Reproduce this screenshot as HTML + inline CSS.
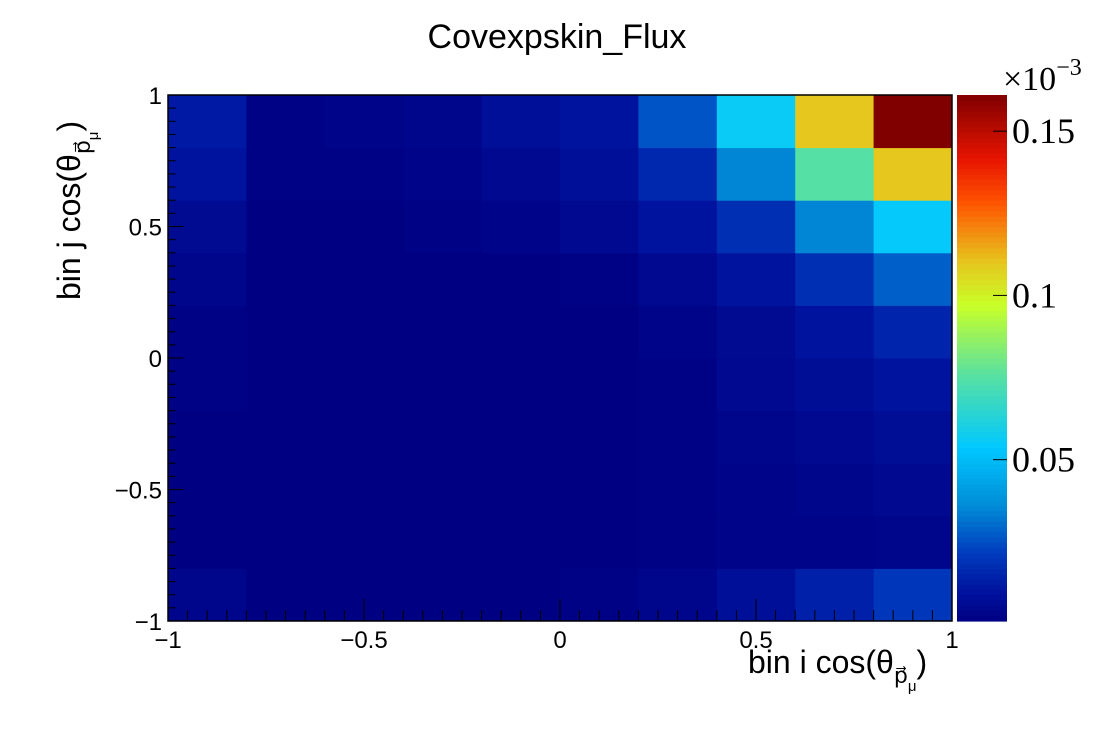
<!DOCTYPE html>
<html><head><meta charset="utf-8"><style>
html,body{margin:0;padding:0;background:#fff;}
svg{display:block;font-family:"Liberation Sans",sans-serif;}
</style></head><body>
<svg id="chart" width="1120" height="740" viewBox="0 0 1120 740" xmlns="http://www.w3.org/2000/svg">
<rect width="1120" height="740" fill="#fff"/>
<text x="557" y="48" font-size="34" text-anchor="middle">Covexpskin_Flux</text>
<g id="cells"></g>
<g id="axes"></g>
<g id="cbar"></g>
<text x="748" y="673" font-size="32">bin i cos(θ<tspan font-size="22" dy="10">p⃗</tspan><tspan font-size="15" dy="8">μ</tspan><tspan dy="-18">)</tspan></text>
<text transform="translate(80,300) rotate(-90)" font-size="32">bin j cos(θ<tspan font-size="22" dy="10">p⃗</tspan><tspan font-size="15" dy="8">μ</tspan><tspan dy="-18">)</tspan></text>
<text x="1003" y="90" font-family="Liberation Serif,serif" font-size="34">×10<tspan font-size="24" dy="-15">−3</tspan></text>
</svg>
<script>
// bin edges in cos(theta)
const xEdges=[-1,-0.8,-0.6,-0.4,-0.2,0,0.2,0.4,0.6,0.8,1];
const yEdges=[-1,-0.8,-0.6,-0.4,-0.2,0,0.2,0.4,0.6,0.8,1];
// values (x1e-3), rows from bottom (j=0) to top (j=9)
const row0=[0.004,0.001,0.001,0.001,0.001,0.002,0.004,0.008,0.014,0.020];
const row1=[0.001,0.001,0.001,0.001,0.001,0.001,0.002,0.003,0.003,0.004];
const row2=[0.001,0.001,0.001,0.001,0.001,0.001,0.002,0.003,0.004,0.005];
const row3=[0.001,0.001,0.001,0.001,0.001,0.001,0.002,0.004,0.005,0.007];
const row4=[0.002,0.001,0.001,0.001,0.001,0.001,0.002,0.005,0.007,0.010];
const row5=[0.002,0.001,0.001,0.001,0.001,0.001,0.003,0.006,0.010,0.015];
const row6=[0.004,0.001,0.001,0.001,0.001,0.002,0.005,0.010,0.018,0.028];
const row7=[0.006,0.001,0.001,0.002,0.003,0.005,0.010,0.018,0.035,0.055];
const row8=[0.010,0.002,0.002,0.003,0.005,0.008,0.016,0.035,0.075,0.110];
const row9=[0.012,0.002,0.003,0.004,0.008,0.010,0.026,0.056,0.110,0.161];
const values=[row0,row1,row2,row3,row4,row5,row6,row7,row8,row9];
const zMin=0.0009, zMax=0.161;
const xTicks=[-1,-0.5,0,0.5,1];
const yTicks=[-1,-0.5,0,0.5,1];
const zTicks=[0.05,0.1,0.15];

const NS="http://www.w3.org/2000/svg";
const L=168,R=952,T=95,B=621;
const X=v=>L+(v+1)/2*(R-L);
const Y=v=>B-(v+1)/2*(B-T);
const CB0=957,CB1=1007;
const Z=v=>B-(v-zMin)/(zMax-zMin)*(B-T);
const stops=[[0,[0,0,130]],[0.06,[0,20,160]],[0.13,[0,60,190]],[0.22,[0,140,215]],[0.33,[0,200,255]],[0.47,[90,225,160]],[0.6,[200,255,40]],[0.68,[230,200,30]],[0.8,[255,80,0]],[0.88,[230,20,0]],[1,[128,0,0]]];
function col(v){let f=Math.max(0,Math.min(1,(v-zMin)/(zMax-zMin)));
 for(let i=1;i<stops.length;i++){if(f<=stops[i][0]){const a=stops[i-1],b=stops[i];const t=(f-a[0])/(b[0]-a[0]);
 const c=a[1].map((x,k)=>Math.round(x+(b[1][k]-x)*t));return `rgb(${c})`;}}return 'rgb(128,0,0)';}
function mk(tag,attrs,parent){const e=document.createElementNS(NS,tag);for(const k in attrs)e.setAttribute(k,attrs[k]);parent.appendChild(e);return e;}
const cells=document.getElementById('cells');
values.forEach((row,j)=>row.forEach((v,i)=>{
 const r=mk('rect',{x:X(xEdges[i]),y:Y(yEdges[j+1]),width:X(xEdges[i+1])-X(xEdges[i])+0.5,height:Y(yEdges[j])-Y(yEdges[j+1])+0.5,fill:col(v)},cells);
 
 
}));
const ax=document.getElementById('axes');
mk('rect',{x:L,y:T,width:R-L,height:B-T,fill:'none',stroke:'#000','stroke-width':1.5},ax);
for(let k=0;k<=40;k++){const v=-1+k*0.05;const maj=k%10==0;const len=maj?22:11;
 mk('line',{x1:X(v),x2:X(v),y1:B,y2:B-len,stroke:'#000'},ax);
 mk('line',{x1:L,x2:L+len*0.7,y1:Y(v),y2:Y(v),stroke:'#000'},ax);}
xTicks.forEach(v=>{const t=mk('text',{x:X(v),y:B+27,'font-size':24,'text-anchor':'middle'},ax);t.textContent=v<0?'−'+(-v):String(v);
 });
yTicks.forEach(v=>{const t=mk('text',{x:L-6,y:Y(v)+9,'font-size':24,'text-anchor':'end'},ax);t.textContent=v<0?'−'+(-v):String(v);
 });
const cb=document.getElementById('cbar');
const N=100;for(let k=0;k<N;k++){const v0=zMin+(zMax-zMin)*k/N,v1=zMin+(zMax-zMin)*(k+1)/N;
 mk('rect',{x:CB0,y:Z(v1),width:CB1-CB0,height:Z(v0)-Z(v1)+0.6,fill:col((v0+v1)/2)},cb);}
zTicks.forEach(v=>{mk('line',{x1:CB1,x2:CB1-14,y1:Z(v),y2:Z(v),stroke:'#000'},cb);
 const t=mk('text',{x:1012,y:Z(v)+12,'font-size':36,'font-family':'Liberation Serif,serif'},cb);t.textContent=String(v);
 });
</script>
</body></html>
